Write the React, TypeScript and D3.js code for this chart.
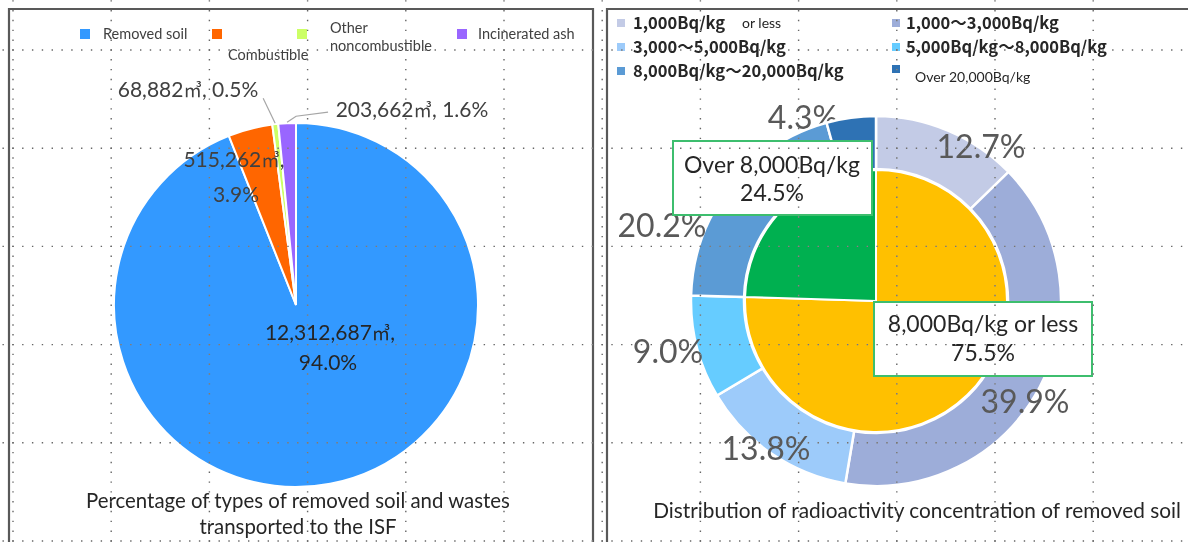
import React from "react";
import * as d3 from "d3";

// ---------- data ----------
const soilCategories = ["Removed soil", "Combustible", "Other noncombustible", "Incinerated ash"];
const soilVolumes = [12312687, 515262, 68882, 203662];
const soilPercents = [94.0, 3.9, 0.5, 1.6];
const soilColors = ["#3399FF", "#FF6600", "#CCFF66", "#9966FF"];

const bandLabels = [
  "1,000Bq/kg or less",
  "1,000～3,000Bq/kg",
  "3,000～5,000Bq/kg",
  "5,000Bq/kg～8,000Bq/kg",
  "8,000Bq/kg～20,000Bq/kg",
  "Over 20,000Bq/kg",
];
const bandPercents = [12.7, 39.9, 13.8, 9.0, 20.2, 4.3];
const bandColors = ["#C3CBE6", "#9DADD9", "#9DCBFA", "#66CCFF", "#5B9BD5", "#2E72B4"];

const groupLabels = ["8,000Bq/kg or less", "Over 8,000Bq/kg"];
const groupPercents = [75.5, 24.5];
const groupColors = ["#FFC000", "#00B050"];

const FONT = "Lato, 'Open Sans', sans-serif";
const JFONT = "'Noto Sans CJK JP', 'Noto Sans', sans-serif";

const fmt = d3.format(",");

const M3 = () => (
  <tspan fontFamily={JFONT} fontSize="0.88em">
    ㎥
  </tspan>
);

export default function App() {
  // left pie
  const lc = { x: 296, y: 305 };
  const lr = 182;
  const pie = d3.pie<number>().sort(null).value((d) => d);
  const leftArcs = pie(soilVolumes);
  const leftArc = d3.arc<d3.PieArcDatum<number>>().innerRadius(0).outerRadius(lr);
  const outerPt = (a: d3.PieArcDatum<number>, r: number) => {
    const m = (a.startAngle + a.endAngle) / 2;
    return [lc.x + r * Math.sin(m), lc.y - r * Math.cos(m)];
  };

  // right donut
  const rc = { x: 876, y: 301 };
  const rOuter = 185;
  const rInner = 132;
  const ringArcs = pie(bandPercents);
  const ringArc = d3.arc<d3.PieArcDatum<number>>().innerRadius(rInner).outerRadius(rOuter);
  const innerArcs = pie(groupPercents);
  const innerArc = d3.arc<d3.PieArcDatum<number>>().innerRadius(0).outerRadius(rInner - 1);

  const ringLabelPos = [
    [981, 147],
    [1025, 402],
    [766, 449],
    [668, 352],
    [662, 226],
    [803, 118],
  ];

  // dotted grid (decoration)
  const step = 98.2;
  const xs = d3.range(13, 1188, step);
  const ys = d3.range(50 - step, 542, step);
  const dash = `1.4 ${step / 10 - 1.4}`;

  const p1 = outerPt(leftArcs[2], lr + 1);
  const p2 = outerPt(leftArcs[3], lr + 1);

  const leftLegend = [
    { sx: 80, sy: 29, lines: [{ t: soilCategories[0], x: 103, y: 39 }] },
    { sx: 212, sy: 29, lines: [{ t: soilCategories[1], x: 228, y: 60 }] },
    { sx: 297, sy: 29, lines: [{ t: "Other", x: 330, y: 33 }, { t: "noncombustible", x: 330, y: 51 }] },
    { sx: 457, sy: 29, lines: [{ t: soilCategories[3], x: 478, y: 39 }] },
  ];

  const rightLegend = [
    { sx: 617, sy: 19, x: 633, y: 29 },
    { sx: 892, sy: 19, x: 906, y: 29 },
    { sx: 617, sy: 43, x: 633, y: 53 },
    { sx: 892, sy: 43, x: 906, y: 53 },
    { sx: 617, sy: 67, x: 633, y: 77 },
    { sx: 892, sy: 65, x: 915, y: 82 },
  ];

  return (
    <svg
      width={1188}
      height={542}
      style={{ position: "absolute", left: 0, top: 0, display: "block" }}
    >
      <rect x={0} y={0} width={1188} height={542} fill="#fff" />

      {/* ---------- left panel ---------- */}
      <g>
        {leftArcs.map((a, i) => (
          <path
            key={i}
            d={leftArc(a) as string}
            transform={`translate(${lc.x},${lc.y})`}
            fill={soilColors[i]}
            stroke="#fff"
            strokeWidth={2}
          />
        ))}
        {/* leader lines */}
        <polyline
          points={`${p1[0]},${p1[1]} ${p1[0] - 12},${p1[1] - 25}`}
          fill="none"
          stroke="#A6A6A6"
          strokeWidth={1.2}
        />
        <polyline
          points={`${p2[0]},${p2[1]} ${p2[0] + 9},${p2[1] - 6} ${p2[0] + 41},${p2[1] - 10}`}
          fill="none"
          stroke="#A6A6A6"
          strokeWidth={1.2}
        />
        <g fontFamily={FONT} fill="#404040" fontSize={21}>
          <text x={188} y={97} textAnchor="middle">
            {fmt(soilVolumes[2])}
            <M3 />, {soilPercents[2].toFixed(1)}%
          </text>
          <text x={412} y={117} textAnchor="middle">
            {fmt(soilVolumes[3])}
            <M3 />, {soilPercents[3].toFixed(1)}%
          </text>
          <text x={234} y={167} textAnchor="middle">
            {fmt(soilVolumes[1])}
            <M3 />,
          </text>
          <text x={236} y={202} textAnchor="middle">
            {soilPercents[1].toFixed(1)}%
          </text>
          <text x={330} y={340} textAnchor="middle" fill="#262626">
            {fmt(soilVolumes[0])}
            <M3 />,
          </text>
          <text x={328} y={370} textAnchor="middle" fill="#262626">
            {soilPercents[0].toFixed(1)}%
          </text>
        </g>
        <g fontFamily={FONT} fontSize={14.5} fill="#404040">
          {leftLegend.map((l, i) => (
            <g key={i}>
              <rect x={l.sx} y={l.sy} width={10} height={10} fill={soilColors[i]} />
              {l.lines.map((ln, j) => (
                <text key={j} x={ln.x} y={ln.y}>
                  {ln.t}
                </text>
              ))}
            </g>
          ))}
        </g>
        <g fontFamily={FONT} fontSize={20.4} fill="#262626" textAnchor="middle">
          <text x={298} y={508}>Percentage of types of removed soil and wastes</text>
          <text x={298} y={534}>transported to the ISF</text>
        </g>
      </g>

      {/* ---------- right panel ---------- */}
      <g>
        <g fontFamily={FONT} fontSize={32} fill="#595959" textAnchor="middle">
          <text x={ringLabelPos[5][0]} y={ringLabelPos[5][1] + 11}>
            {bandPercents[5].toFixed(1)}%
          </text>
        </g>
        {ringArcs.map((a, i) => (
          <path
            key={i}
            d={ringArc(a) as string}
            transform={`translate(${rc.x},${rc.y})`}
            fill={bandColors[i]}
            stroke="#fff"
            strokeWidth={2.5}
          />
        ))}
        {innerArcs.map((a, i) => (
          <path
            key={i}
            d={innerArc(a) as string}
            transform={`translate(${rc.x},${rc.y})`}
            fill={groupColors[i]}
            stroke="#fff"
            strokeWidth={2}
          />
        ))}
        <g fontFamily={FONT} fontSize={32} fill="#595959" textAnchor="middle">
          {ringArcs.slice(0, 5).map((a, i) => (
            <text key={i} x={ringLabelPos[i][0]} y={ringLabelPos[i][1] + 11}>
              {bandPercents[i].toFixed(1)}%
            </text>
          ))}
        </g>
        {/* callouts */}
        <g fontFamily={FONT} fontSize={23} fill="#262626" textAnchor="middle">
          <rect x={673} y={141} width={199} height={74} fill="#fff" stroke="#3DBE6E" strokeWidth={2} />
          <text x={772} y={173}>{groupLabels[1]}</text>
          <text x={772} y={201}>{groupPercents[1].toFixed(1)}%</text>
          <rect x={874} y={302} width={218} height={74} fill="#fff" stroke="#3DBE6E" strokeWidth={2} />
          <text x={983} y={332}>{groupLabels[0]}</text>
          <text x={983} y={361}>{groupPercents[0].toFixed(1)}%</text>
        </g>
        {/* legend */}
        <g fill="#262626">
          {rightLegend.map((l, i) => (
            <g key={i}>
              <rect x={l.sx} y={l.sy} width={8} height={8} fill={bandColors[i]} />
              {i === 0 ? (
                <>
                  <text x={l.x} y={l.y} fontFamily={JFONT} fontSize={16.5} fontWeight={700}>
                    1,000Bq/kg
                  </text>
                  <text x={742} y={28} fontFamily={FONT} fontSize={14}>
                    or less
                  </text>
                </>
              ) : i === 5 ? (
                <text x={l.x} y={l.y} fontFamily={FONT} fontSize={14}>
                  {bandLabels[i]}
                </text>
              ) : (
                <text x={l.x} y={l.y} fontFamily={JFONT} fontSize={16.5} fontWeight={700}>
                  {bandLabels[i]}
                </text>
              )}
            </g>
          ))}
        </g>
        <text x={917} y={518} fontFamily={FONT} fontSize={20.8} fill="#262626" textAnchor="middle">
          Distribution of radioactivity concentration of removed soil
        </text>
      </g>

      {/* panel borders */}
      <path d="M9,600 V9 H593 V600" fill="none" stroke="#595959" strokeWidth={2.2} />
      <path d="M607,600 V9 H1200" fill="none" stroke="#595959" strokeWidth={2.2} />

      {/* dotted sheet grid */}
      <g stroke="#fff" strokeWidth={1.4} opacity={0.6} style={{ mixBlendMode: "difference" }}>
        {xs.map((x, i) => (
          <line key={"v" + i} x1={x} x2={x} y1={ys[0] - 0.7} y2={542} strokeDasharray={dash} />
        ))}
        {ys.map((y, i) => (
          <line key={"h" + i} y1={y} y2={y} x1={xs[0] - step - 0.7} x2={1188} strokeDasharray={dash} />
        ))}
      </g>
    </svg>
  );
}
